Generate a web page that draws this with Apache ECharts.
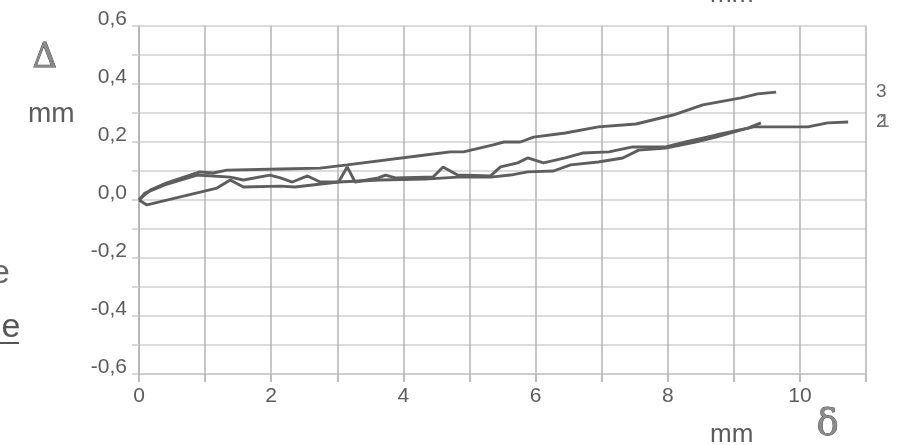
<!DOCTYPE html>
<html>
<head>
<meta charset="utf-8">
<script src="https://cdn.jsdelivr.net/npm/echarts@6/dist/echarts.min.js"></script>
<style>html,body{margin:0;padding:0;background:#fff;}#c{width:897px;height:445px;}</style>
</head>
<body>
<div id="c"></div>
<script>
// Series 3 (top curve)
const s3x = [0, 0.17, 0.42, 0.92, 1.12, 1.33, 2.14, 2.74, 3.15, 4.33, 4.71, 4.91, 5.36, 5.52, 5.77, 5.97, 6.45, 6.95, 7.52, 8.08, 8.53, 9.11, 9.36, 9.64];
const s3y = [0, 0.034, 0.059, 0.097, 0.093, 0.103, 0.107, 0.11, 0.121, 0.155, 0.166, 0.166, 0.19, 0.2, 0.2, 0.217, 0.231, 0.252, 0.262, 0.293, 0.328, 0.352, 0.366, 0.372];
// Series 2 (middle curve, ends near 9.4)
const s2x = [0, 0.09, 0.39, 0.88, 1.38, 1.58, 1.98, 2.14, 2.32, 2.55, 2.74, 3.02, 3.15, 3.27, 3.62, 3.73, 3.88, 4.33, 4.45, 4.6, 4.82, 5.32, 5.47, 5.73, 5.88, 6.12, 6.45, 6.71, 7.11, 7.47, 7.97, 8.27, 8.73, 9.21, 9.41];
const s2y = [0, 0.024, 0.052, 0.086, 0.079, 0.069, 0.086, 0.076, 0.062, 0.083, 0.062, 0.062, 0.114, 0.062, 0.076, 0.086, 0.076, 0.079, 0.079, 0.114, 0.086, 0.083, 0.114, 0.128, 0.145, 0.128, 0.145, 0.162, 0.166, 0.183, 0.183, 0.2, 0.224, 0.248, 0.266];
// Series 1 (bottom curve, ends near 10.7)
const s1x = [0, 0.12, 1.18, 1.38, 1.58, 2.14, 2.36, 3.02, 3.65, 4.33, 4.82, 5.32, 5.62, 5.88, 6.27, 6.53, 6.95, 7.32, 7.56, 7.97, 8.42, 8.73, 9.1, 9.3, 10.12, 10.42, 10.73];
const s1y = [0, -0.017, 0.041, 0.069, 0.045, 0.048, 0.045, 0.062, 0.069, 0.072, 0.079, 0.079, 0.086, 0.097, 0.1, 0.121, 0.131, 0.145, 0.172, 0.179, 0.2, 0.217, 0.241, 0.252, 0.252, 0.266, 0.269];

const xTicks = { min: 0, max: 11, interval: 1 };
const yTicks = { min: -0.6, max: 0.6, interval: 0.1 };

function pairs(xs, ys) { return xs.map((x, i) => [x, ys[i]]); }

const chart = echarts.init(document.getElementById('c'));
const lineStyle = { color: '#5e5e5e', width: 2.9 };
const txt = '#5c5c5c';
const sans = 'Liberation Sans, Arial, sans-serif';
chart.setOption({
  animation: false,
  backgroundColor: '#ffffff',
  grid: { left: 139, right: 31, top: 26, bottom: 71 },
  xAxis: {
    type: 'value', min: xTicks.min, max: xTicks.max, interval: xTicks.interval,
    axisLine: { show: true, onZero: false, lineStyle: { color: '#c8c8c8', width: 1.5 } },
    axisTick: { show: true, length: 8, lineStyle: { color: '#aaaaaa', width: 1.5 } },
    splitLine: { show: true, lineStyle: { color: '#b4b4b4', width: 1.5 } },
    axisLabel: {
      margin: 12, fontSize: 21, color: txt, fontFamily: sans,
      formatter: v => (Math.round(v) % 2 === 0 ? String(Math.round(v)) : '')
    }
  },
  yAxis: {
    type: 'value', min: yTicks.min, max: yTicks.max, interval: yTicks.interval,
    axisLine: { show: true, lineStyle: { color: '#b0b0b0', width: 1.5 } },
    axisTick: { show: true, length: 7, lineStyle: { color: '#cccccc', width: 1.5 } },
    splitLine: { show: true, lineStyle: { color: '#d0d0d0', width: 1.5 } },
    axisLabel: {
      margin: 12, fontSize: 21, lineHeight: 14, color: txt, fontFamily: sans,
      verticalAlign: 'bottom',
      formatter: v => {
        const r = Math.round(v * 10);
        if (r % 2 !== 0) return '';
        return (r / 10).toFixed(1).replace('.', ',');
      }
    }
  },
  series: [
    { name: '1', type: 'line', data: pairs(s1x, s1y), showSymbol: false, lineStyle: lineStyle, z: 3 },
    { name: '2', type: 'line', data: pairs(s2x, s2y), showSymbol: false, lineStyle: lineStyle, z: 3 },
    { name: '3', type: 'line', data: pairs(s3x, s3y), showSymbol: false, lineStyle: lineStyle, z: 3 }
  ],
  graphic: [
    { type: 'text', left: 32, top: 41, style: { text: 'Δ', fontSize: 34, fill: '#8a8a8a', stroke: '#444', lineWidth: 0.8, fontFamily: 'DejaVu Serif, serif' } },
    { type: 'text', left: 28, top: 100, style: { text: 'mm', fontSize: 28, fill: txt, fontFamily: sans } },
    { type: 'text', left: 710, top: 422, style: { text: 'mm', fontSize: 26, fill: txt, fontFamily: sans } },
    { type: 'text', left: 816, top: 406, style: { text: 'δ', fontSize: 37, fill: '#8a8a8a', stroke: '#444', lineWidth: 0.8, fontFamily: 'DejaVu Serif, serif' } },
    { type: 'text', left: 710, top: -18, style: { text: 'mm', fontSize: 26, fill: txt, fontFamily: sans } },
    { type: 'text', left: 876, top: 82, style: { text: '3', fontSize: 19, fill: '#666', fontFamily: sans } },
    { type: 'text', left: 876, top: 112, style: { text: '2', fontSize: 19, fill: '#666', fontFamily: sans } },
    { type: 'text', left: 879, top: 112, style: { text: '1', fontSize: 19, fill: '#777', fontFamily: sans } },
    { type: 'text', left: -9, top: 257, style: { text: 'e', fontSize: 34, fill: '#666', fontFamily: sans } },
    { type: 'text', left: -6, top: 311, style: { text: 'le', fontSize: 34, fill: '#555', fontFamily: sans } },
    { type: 'line', shape: { x1: 0, y1: 343, x2: 19, y2: 343 }, style: { stroke: '#555', lineWidth: 2 } }
  ]
});
</script>
</body>
</html>
